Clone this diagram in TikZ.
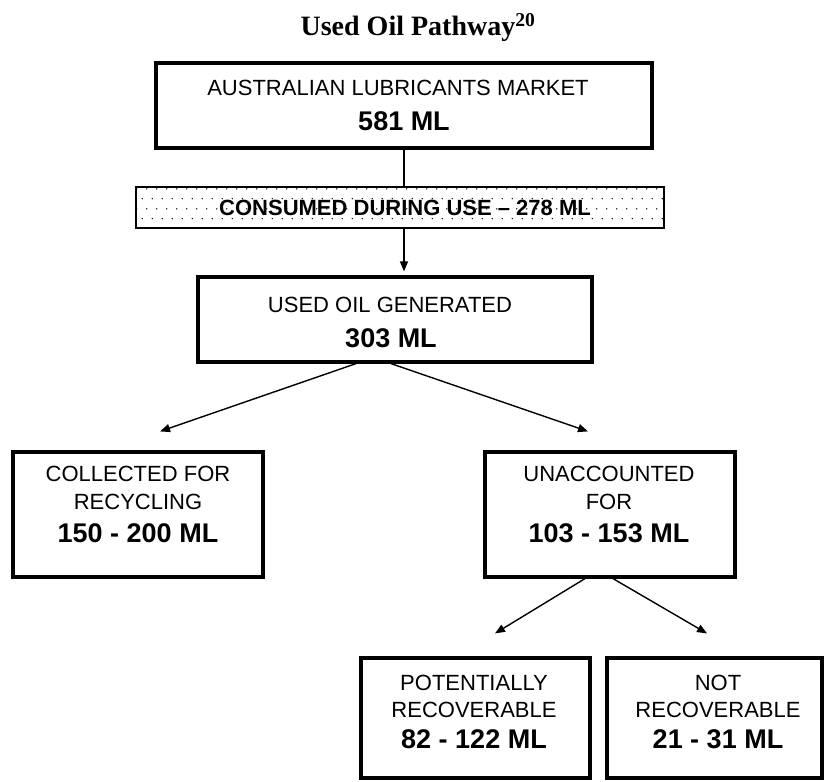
\documentclass[tikz,border=0pt]{standalone}
\usepackage{fontspec}
\setmainfont{Liberation Serif}
\setsansfont{Liberation Sans}
\usetikzlibrary{arrows.meta,patterns.meta}

\tikzdeclarepattern{
  name=sparsedots,
  type=uncolored,
  bounding box={(0pt,0pt) and (10pt,20pt)},
  tile size={(10pt,20pt)},
  code={
    \fill (2.5pt,2.5pt) circle (0.8pt);
    \fill (7.5pt,12.5pt) circle (0.8pt);
  }
}

\tikzset{
  flowbox/.style={draw, line width=3.2pt, fill=white, inner sep=0pt},
  bandbox/.style={draw, line width=1.8pt, pattern=sparsedots, inner sep=0pt},
  titletext/.style={font=\bfseries\fontsize{28}{31}\selectfont},
  labeltext/.style={font=\sffamily\fontsize{22}{26}\selectfont, inner sep=0pt},
  valuetext/.style={font=\sffamily\bfseries\fontsize{27}{30}\selectfont, inner sep=0pt},
  bandtext/.style={font=\sffamily\bfseries\fontsize{22}{26}\selectfont, inner sep=0pt},
  link/.style={line width=1.4pt},
  conn/.style={line width=1.4pt, -{Triangle[length=10pt,width=8pt]}}
}

\begin{document}
\begin{tikzpicture}[x=1pt, y=-1pt]
  \useasboundingbox (0,0) rectangle (829,781);

  % Title
  \node[titletext, anchor=base] (title) at (418,36) {Used Oil Pathway\textsuperscript{20}};

  % Market box
  \node[flowbox, minimum width=496pt, minimum height=85pt] (market) at (404,105.5) {};
  \node[labeltext] at (398,88)  {AUSTRALIAN LUBRICANTS MARKET};
  \node[valuetext] at (404,121) {581 ML};

  % Consumed band
  \node[bandbox, minimum width=528pt, minimum height=41pt] (consumed) at (400,207.5) {};
  \node[bandtext] at (405,208) {CONSUMED DURING USE – 278 ML};

  % Used oil generated
  \node[flowbox, minimum width=394pt, minimum height=85pt] (generated) at (395,319.5) {};
  \node[labeltext] at (390,305) {USED OIL GENERATED};
  \node[valuetext] at (391,338) {303 ML};

  % Collected
  \node[flowbox, minimum width=250pt, minimum height=125pt] (collected) at (138,514.5) {};
  \node[labeltext] at (138,474) {COLLECTED FOR};
  \node[labeltext] at (138,502) {RECYCLING};
  \node[valuetext] at (138,533) {150 - 200 ML};

  % Unaccounted
  \node[flowbox, minimum width=250pt, minimum height=125pt] (unaccounted) at (610,514.5) {};
  \node[labeltext] at (609,474) {UNACCOUNTED};
  \node[labeltext] at (609,502) {FOR};
  \node[valuetext] at (609,533) {103 - 153 ML};

  % Recoverable split
  \node[flowbox, minimum width=229pt, minimum height=120pt] (potential) at (475.5,718) {};
  \node[labeltext] at (474,683) {POTENTIALLY};
  \node[labeltext] at (474,710) {RECOVERABLE};
  \node[valuetext] at (474,739) {82 - 122 ML};

  \node[flowbox, minimum width=215pt, minimum height=120pt] (notrec) at (714.5,718) {};
  \node[labeltext] at (718,683) {NOT};
  \node[labeltext] at (718,710) {RECOVERABLE};
  \node[valuetext] at (718,739) {21 - 31 ML};

  % Connectors
  \coordinate (bandtop) at (market.south |- consumed.north);
  \coordinate (bandbot) at (market.south |- consumed.south);
  \coordinate (gentop)  at (market.south |- generated.north);
  \draw[link] (market.south) -- (bandtop);
  \draw[conn] (bandbot) -- ([yshift=4pt]gentop);

  \draw[conn] ([xshift=-39pt]generated.south) -- ([xshift=22pt,yshift=19pt]collected.north);
  \draw[conn] ([xshift=-4pt]generated.south) -- ([xshift=-22pt,yshift=19pt]unaccounted.north);

  \draw[conn] ([xshift=-25pt]unaccounted.south) -- ([xshift=19.5pt,yshift=23pt]potential.north);
  \draw[conn] ([xshift=3pt]unaccounted.south) -- ([xshift=-7.5pt,yshift=23pt]notrec.north);
\end{tikzpicture}
\end{document}
